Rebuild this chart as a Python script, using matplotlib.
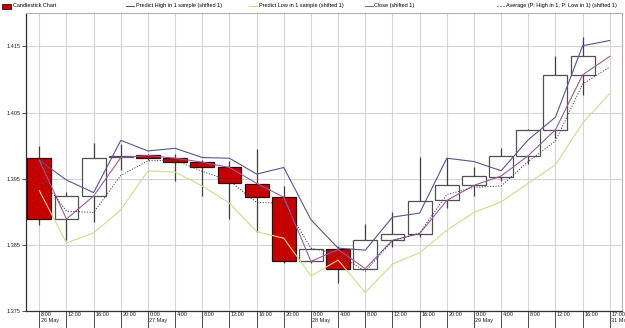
import numpy as np
import matplotlib
matplotlib.use("Agg")
import matplotlib.pyplot as plt
from matplotlib.patches import Rectangle
from matplotlib.lines import Line2D
import matplotlib.transforms as mtransforms

# ---- data ----
tick_labels = ["8:00\n26 May", "12:00", "16:00", "20:00", "0:00\n27 May", "4:00", "8:00",
               "12:00", "16:00", "20:00", "0:00\n28 May", "4:00", "8:00", "12:00", "16:00",
               "20:00", "0:00\n29 May", "4:00", "8:00", "12:00", "16:00", "17:00\n31 May"]

opens = [1.3981, 1.3889, 1.3924, 1.3983, 1.3986, 1.3981, 1.3975, 1.3967, 1.3942, 1.3922, 1.3825,
         1.3844, 1.3814, 1.3857, 1.3867, 1.3918, 1.3941, 1.3953, 1.3985, 1.4023, 1.4107]
closes = [1.3889, 1.3924, 1.3982, 1.3985, 1.3981, 1.3975, 1.3967, 1.3943, 1.3922, 1.3825, 1.3843,
          1.3814, 1.3857, 1.3867, 1.3917, 1.3940, 1.3954, 1.3985, 1.4024, 1.4107, 1.4135]
highs = [1.3999, 1.3930, 1.4004, 1.4003, 1.3988, 1.3988, 1.3978, 1.3977, 1.3995, 1.3939, 1.3846,
         1.3848, 1.3882, 1.3899, 1.3983, 1.3981, 1.3967, 1.3997, 1.4025, 1.4135, 1.4165]
lows = [1.3880, 1.3858, 1.3885, 1.3963, 1.3979, 1.3947, 1.3924, 1.3889, 1.3870, 1.3823, 1.3822,
        1.3792, 1.3814, 1.3847, 1.3862, 1.3906, 1.3924, 1.3947, 1.3972, 1.4012, 1.4076]

pred_high = [1.3978, 1.3948, 1.3929, 1.4008, 1.3992, 1.3996, 1.3982, 1.3981, 1.3957, 1.3967, 1.3888,
             1.3845, 1.3842, 1.3892, 1.3898, 1.3981, 1.3976, 1.3962, 1.4009, 1.4043, 1.4151, 1.4159]
pred_low = [1.3932, 1.3853, 1.3868, 1.3903, 1.3962, 1.3960, 1.3939, 1.3913, 1.3870, 1.3860, 1.3803,
            1.3827, 1.3778, 1.3821, 1.3838, 1.3872, 1.3899, 1.3915, 1.3943, 1.3971, 1.4034, 1.4079]
close_shift = [1.3978, 1.3889, 1.3924, 1.3982, 1.3985, 1.3981, 1.3975, 1.3967, 1.3943, 1.3922, 1.3825,
               1.3843, 1.3814, 1.3857, 1.3867, 1.3917, 1.3940, 1.3954, 1.3985, 1.4024, 1.4107, 1.4135]
average = [1.3955, 1.3901, 1.3899, 1.3955, 1.3977, 1.3978, 1.3961, 1.3947, 1.3914, 1.3913, 1.3845,
           1.3836, 1.3810, 1.3856, 1.3868, 1.3926, 1.3937, 1.3939, 1.3976, 1.4007, 1.4093, 1.4119]

y_ticks = [1.375, 1.385, 1.395, 1.405, 1.415]

legend_labels = ["Candlestick Chart", "Predict High in 1 sample (shifted 1)",
                 "Predict Low in 1 sample (shifted 1)", "Close (shifted 1)",
                 "Average (P: High in 1, P: Low in 1) (shifted 1)"]

# ---- style ----
FONT = ["Liberation Sans Narrow", "Liberation Sans", "DejaVu Sans"]
FS = 4.0
C_RED = "#c40000"
C_HIGH = "#56568f"
C_LOW = "#d8d68e"
C_CLOSE = "#9a5c9e"
C_AVG = "#404040"
C_GRID = "#d4d4d4"

W, H = 625, 328
fig = plt.figure(figsize=(W / 100, H / 100), dpi=100)
fig.patch.set_facecolor("white")
L, R, T, B = 26, 622, 12.7, 311
ax = fig.add_axes([L / W, 1 - B / H, (R - L) / W, (B - T) / H])

x_c = np.arange(len(opens))
x_l = np.arange(len(pred_high))

ax.set_xlim(-0.49, 21.45)
ax.set_ylim(1.375, 1.4201)

# grid
for xv in x_l:
    ax.axvline(xv, color=C_GRID, lw=0.8, zorder=0)
for yv in y_ticks:
    ax.axhline(yv, color=C_GRID, lw=0.8, zorder=0)

# candles
bw = 0.88
for x, o, c, h, l in zip(x_c, opens, closes, highs, lows):
    ax.vlines(x, l, h, color="#404040", lw=0.9, zorder=2)
    bottom = min(o, c)
    height = max(abs(c - o), 0.00006)
    if c < o:
        face, edge = C_RED, "#3a0808"
    else:
        face, edge = "white", "#505050"
    ax.add_patch(Rectangle((x - bw / 2, bottom), bw, height, facecolor=face,
                           edgecolor=edge, lw=0.9, zorder=3))

# lines
ax.plot(x_l, pred_high, color=C_HIGH, lw=0.8, zorder=4)
ax.plot(x_l, pred_low, color=C_LOW, lw=0.8, zorder=4)
ax.plot(x_l, close_shift, color=C_CLOSE, lw=0.8, zorder=5)
ax.plot(x_l, average, color=C_AVG, lw=0.7, ls=(0, (1.2, 1.6)), zorder=5)

# axes frame
for s in ["top", "right"]:
    ax.spines[s].set_color("#b0b0b0")
    ax.spines[s].set_linewidth(0.8)
for s in ["left", "bottom"]:
    ax.spines[s].set_color("#303030")
    ax.spines[s].set_linewidth(0.9)

ax.set_yticks(y_ticks)
ax.set_yticklabels([f"{v:.3f}" for v in y_ticks], fontsize=FS, family=FONT, color="#202020")
ax.tick_params(axis="y", length=3, width=0.6, color="#303030", pad=1)

ax.set_xticks(x_l)
ax.set_xticklabels([])
ax.tick_params(axis="x", length=14, width=0.6, color="#303030")

trans = mtransforms.blended_transform_factory(ax.transData, ax.transAxes)
offset = mtransforms.ScaledTranslation(1.5 / 100, -1.5 / 100, fig.dpi_scale_trans)
for xv, lab in zip(x_l, tick_labels):
    ax.text(xv, 0, lab, transform=trans + offset, ha="left", va="top",
            fontsize=FS, family=FONT, color="#202020", linespacing=1.15, clip_on=False)

# legend (manual, figure pixel positions)
def fx(px):
    return px / W

def fy(py):
    return 1 - py / H

ly = 5.5
fig.add_artist(Rectangle((fx(2), fy(9)), fx(9), 5.5 / H, transform=fig.transFigure,
                         facecolor=C_RED, edgecolor="#3a0808", lw=0.6))
fig.text(fx(13), fy(ly), legend_labels[0], fontsize=FS, family=FONT, va="center", ha="left")
items = [(126, C_HIGH, "-", 136, legend_labels[1]),
         (249, C_LOW, "-", 259, legend_labels[2]),
         (365, C_CLOSE, "-", 374, legend_labels[3]),
         (497, C_AVG, ":", 506, legend_labels[4])]
for x0, col, ls, tx, lab in items:
    fig.add_artist(Line2D([fx(x0), fx(x0 + 8)], [fy(ly), fy(ly)], transform=fig.transFigure,
                          color=col, lw=0.8, ls=ls))
    fig.text(fx(tx), fy(ly), lab, fontsize=FS, family=FONT, va="center", ha="left")

fig.savefig("out.png", dpi=100)
